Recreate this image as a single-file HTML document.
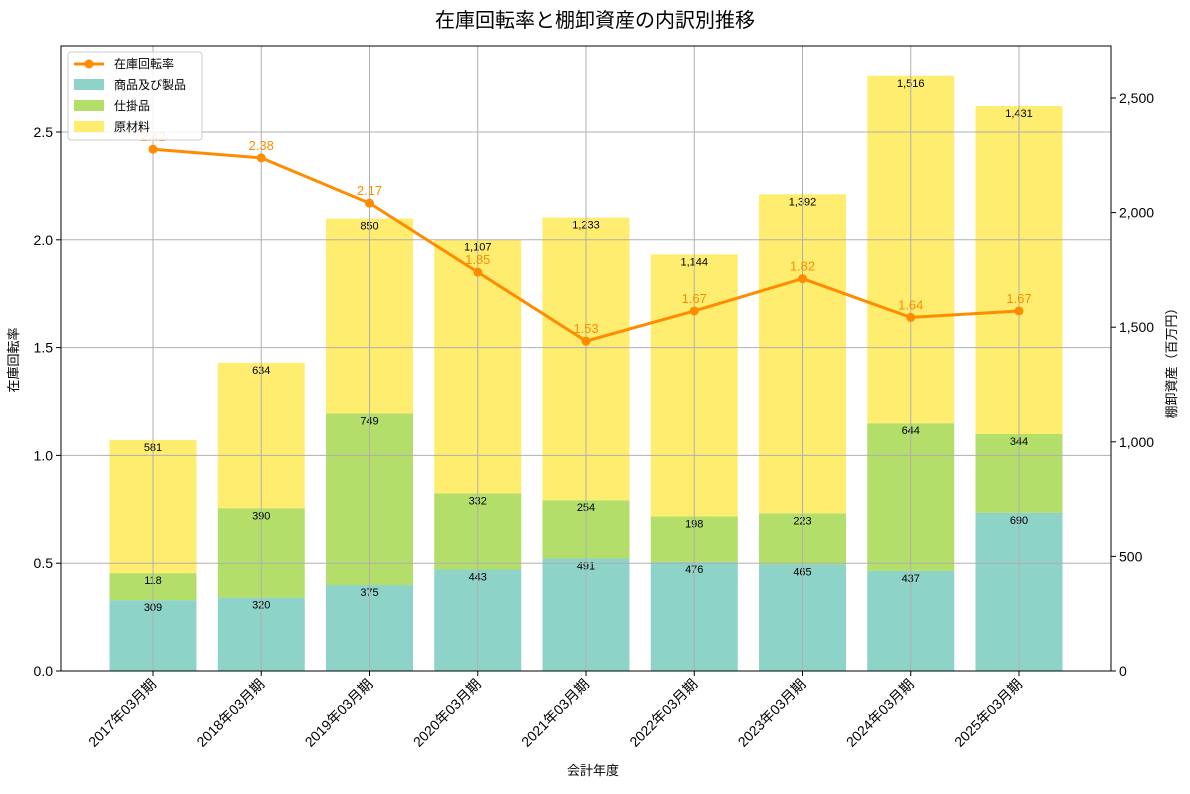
<!DOCTYPE html>
<html><head><meta charset="utf-8"><style>
body{margin:0;background:#fff;font-family:"Liberation Sans","Noto Sans CJK JP",sans-serif}
</style></head><body>
<svg id="chart" width="1190" height="789" xmlns="http://www.w3.org/2000/svg" font-family="Liberation Sans, Noto Sans CJK JP, sans-serif">
<text x="595" y="27" text-anchor="middle" font-size="20">在庫回転率と棚卸資産の内訳別推移</text>
<g id="grid"></g><g id="bars"></g><g id="line"></g><g id="axes"></g>
<text x="593" y="775" text-anchor="middle" font-size="13">会計年度</text>
<text transform="translate(18,360) rotate(-90)" text-anchor="middle" font-size="13">在庫回転率</text>
<text transform="translate(1176,360) rotate(-90)" text-anchor="middle" font-size="13">棚卸資産（百万円）</text>
<g>
<rect x="68" y="52" width="134" height="88" fill="#fff" fill-opacity="0.85" stroke="#ccc" rx="3"/>
<line x1="74" y1="64" x2="104" y2="64" stroke="#ff8c00" stroke-width="3"/><circle cx="89" cy="64" r="4.5" fill="#ff8c00"/>
<text x="114" y="68" font-size="12">在庫回転率</text>
<rect x="74" y="79" width="30" height="11" fill="#8dd3c7"/><text x="114" y="89" font-size="12">商品及び製品</text>
<rect x="74" y="100" width="30" height="11" fill="#b3de69"/><text x="114" y="110" font-size="12">仕掛品</text>
<rect x="74" y="121" width="30" height="11" fill="#ffed6f"/><text x="114" y="131" font-size="12">原材料</text>
</g>
</svg>
<script>
const categories=["2017年03月期","2018年03月期","2019年03月期","2020年03月期","2021年03月期","2022年03月期","2023年03月期","2024年03月期","2025年03月期"];
const goods=[309,320,375,443,491,476,465,437,690];
const wip=[118,390,749,332,254,198,223,644,344];
const raw=[581,634,850,1107,1233,1144,1392,1516,1431];
const turnover=[2.42,2.38,2.17,1.85,1.53,1.67,1.82,1.64,1.67];
const leftTicks=[0,0.5,1.0,1.5,2.0,2.5];
const rightTicks=[0,500,1000,1500,2000,2500];
const NS="http://www.w3.org/2000/svg";
const L=61,R=1111,T=46,B=671;
const x=i=>153+i*108.25;
const yl=v=>B-v*215.6;
const yr=v=>B-v*0.2292;
function mk(p,tag,a){const e=document.createElementNS(NS,tag);for(const k in a)e.setAttribute(k,a[k]);document.getElementById(p).appendChild(e);return e;}
leftTicks.forEach(v=>{if(v>0){const g=mk("grid","line",{x1:L,x2:R,y1:yl(v),y2:yl(v),stroke:"#b0b0b0"});

}
const t=mk("axes","text",{x:L-8,y:yl(v)+5,"text-anchor":"end","font-size":14});t.textContent=v.toFixed(1);

});
rightTicks.forEach(v=>{const t=mk("axes","text",{x:R+8,y:yr(v)+5,"font-size":14});t.textContent=v.toLocaleString("en-US");


mk("axes","line",{x1:R,x2:R+5,y1:yr(v),y2:yr(v),stroke:"#000"});});
categories.forEach((c,i)=>{const cx=x(i);
const segs=[[goods[i],0,"#8dd3c7","bar-goods"],[wip[i],goods[i],"#b3de69","bar-wip"],[raw[i],goods[i]+wip[i],"#ffed6f","bar-raw"]];
segs.forEach(([v,b,col,nm])=>{const r=mk("bars","rect",{x:cx-43.5,width:87,y:yr(b+v),height:yr(b)-yr(b+v),fill:col});


const t=mk("bars","text",{x:cx,y:yr(b+v)+11,"text-anchor":"middle","font-size":11});t.textContent=v.toLocaleString("en-US");

});
const g=mk("grid","line",{x1:cx,x2:cx,y1:T,y2:B,stroke:"#b0b0b0"});


mk("axes","line",{x1:cx,x2:cx,y1:B,y2:B+5,stroke:"#000"});
const t=mk("axes","text",{transform:`translate(${cx+4},${B+14}) rotate(-45)`,"text-anchor":"end","font-size":14});t.textContent=c;

});
document.getElementById("grid").parentNode.insertBefore(document.getElementById("bars"),document.getElementById("grid"));
const pl=mk("line","polyline",{points:turnover.map((v,i)=>x(i)+","+yl(v)).join(" "),fill:"none",stroke:"#ff8c00","stroke-width":3});


turnover.forEach((v,i)=>{const c=mk("line","circle",{cx:x(i),cy:yl(v),r:4.5,fill:"#ff8c00"});


const t=mk("line","text",{x:x(i),y:yl(v)-8,"text-anchor":"middle","font-size":13,fill:"#ff8c00"});t.textContent=v.toFixed(2);

});
mk("axes","rect",{x:L,y:T,width:R-L,height:B-T,fill:"none",stroke:"#000"});
leftTicks.forEach(v=>mk("axes","line",{x1:L-5,x2:L,y1:yl(v),y2:yl(v),stroke:"#000"}));
</script>
</body></html>
